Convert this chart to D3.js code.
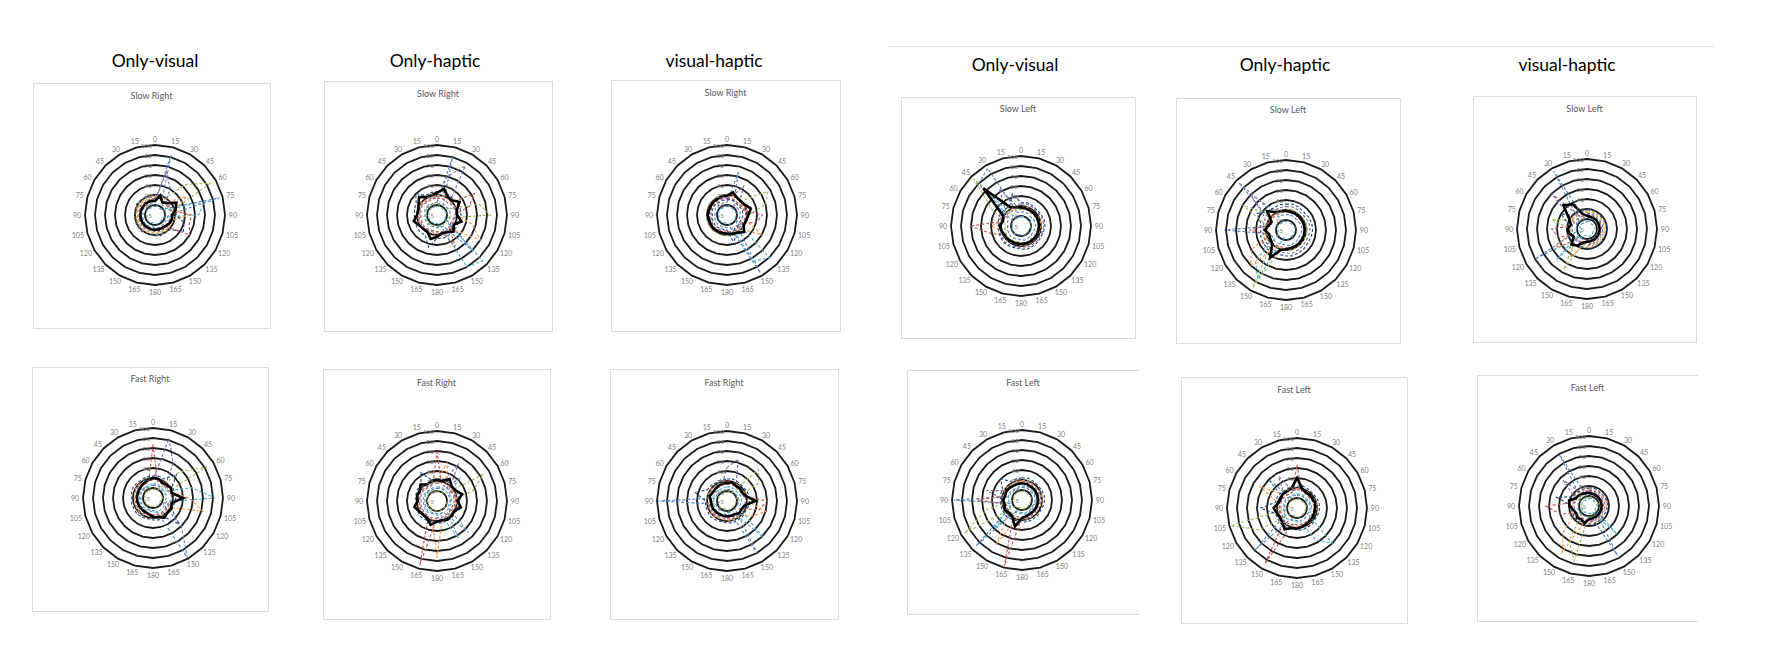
<!DOCTYPE html>
<html><head><meta charset="utf-8">
<script src="https://cdn.jsdelivr.net/npm/d3@7"></script>
<style>html,body{margin:0;padding:0;background:#fff;}svg{display:block;}</style>
</head><body>
<svg id="chart" width="1765" height="658"></svg>
<script>
// ---------- data ----------
const categories = ["0","15","30","45","60","75","90","105","120","135","150","165","180","165","150","135","120","105","90","75","60","45","30","15"];
const radialTicks = [-5,10,25,40,55,70,85,100];
const groupTitles = ["Only-visual","Only-haptic","visual-haptic"];
const panelTitles = ["Slow Right","Slow Right","Slow Right","Slow Left","Slow Left","Slow Left",
                     "Fast Right","Fast Right","Fast Right","Fast Left","Fast Left","Fast Left"];
const seriesColors = ["#4F81BD","#C0504D","#9BBB59","#8064A2","#4BACC6","#F79646","#1F497D"];

const p1Mean = [16,25,17,20,32,27,21,21,20,18,17,17,17,17,17,17,17,17,17,17,17,17,17,17];
const p1Runs = [
 [14,88,14,13,14,95,15,14,13,14,14,15,14,13,14,15,14,14,13,14,15,14,13,14],
 [20,21,20,19,20,21,50,48,55,20,20,21,20,19,20,21,20,20,19,20,21,20,19,20],
 [22,23,22,60,90,23,23,22,21,22,22,23,22,21,22,23,22,22,21,22,23,22,21,22],
 [18,62,40,17,18,19,19,18,17,18,18,19,18,17,18,19,18,18,17,18,19,18,17,18],
 [8,9,8,7,8,72,60,8,7,8,8,9,8,7,8,9,8,8,7,8,9,8,7,8],
 [24,25,24,23,50,25,45,24,23,24,24,25,24,23,24,25,24,24,23,24,25,24,23,24],
 [26,27,26,25,26,27,27,40,44,26,26,27,26,25,26,27,26,26,25,26,27,26,25,26]];

const p2Mean = [28,36,27,26,34,26,25,33,24,30,25,23,28,32,24,24,26,31,25,24,27,33,26,26];
const p2Runs = [
 [14,85,14,13,14,15,15,14,13,72,14,15,14,13,14,15,14,14,13,14,15,14,13,14],
 [20,21,20,19,60,45,21,20,19,20,50,21,20,19,20,21,20,20,19,20,21,20,19,20],
 [12,13,12,11,12,60,75,12,11,12,12,13,12,11,12,13,12,12,11,12,13,12,11,12],
 [22,55,80,21,22,23,23,22,21,22,22,23,22,21,22,23,22,22,21,22,23,22,21,22],
 [8,9,8,7,8,9,9,8,7,92,85,9,8,7,8,9,8,8,7,8,9,8,7,8],
 [24,25,24,23,24,25,25,50,70,24,24,25,24,23,24,25,24,24,23,24,25,24,23,24],
 [30,31,30,29,30,31,31,30,29,30,30,31,30,45,30,31,30,30,29,30,31,40,29,30]];

const p3Mean = [24,30,25,24,26,32,27,25,24,31,26,24,23,23,23,24,23,23,24,23,23,23,23,24];
const p3Runs = [
 [14,62,14,13,14,15,15,14,13,14,95,15,14,13,14,15,14,14,13,14,15,14,13,14],
 [20,21,20,19,20,21,48,40,19,20,20,21,20,19,20,21,20,20,19,20,21,20,19,20],
 [26,27,26,25,66,55,27,26,25,26,26,27,26,25,26,27,26,26,25,26,27,26,25,26],
 [22,23,45,21,22,23,23,22,21,22,22,23,22,21,22,23,22,22,21,22,23,22,21,22],
 [8,9,8,7,8,9,9,8,7,85,75,9,8,7,8,9,8,8,7,8,9,8,7,8],
 [24,25,24,23,24,25,25,24,55,24,24,25,24,23,24,25,24,24,23,24,25,24,23,24],
 [18,19,18,17,18,19,19,18,17,18,18,40,18,17,18,19,18,18,17,18,19,18,17,18]];

const p4Mean = [23,22,22,22,22,22,22,22,22,22,22,22,22,22,22,23,23,25,27,23,26,75,28,24];
const p4Runs = [
 [16,17,16,15,16,17,17,16,15,16,16,17,16,15,16,17,16,16,15,16,17,85,95,16],
 [22,23,22,21,22,23,23,22,21,22,22,23,22,21,22,23,22,40,72,22,23,22,21,22],
 [20,21,20,19,20,21,21,20,19,20,20,21,20,19,20,21,20,20,19,20,45,95,19,20],
 [28,29,28,27,28,29,29,28,27,28,28,29,28,27,28,29,28,28,27,28,29,28,60,28],
 [9,10,9,8,9,10,10,9,8,9,9,10,9,8,9,10,9,9,8,9,10,62,8,9],
 [24,25,24,23,24,25,25,24,23,24,24,25,24,23,24,25,24,24,40,24,25,24,23,24],
 [30,31,30,29,30,31,31,30,29,30,30,31,30,29,30,31,30,30,29,30,31,30,29,45]];

const p5Mean = [24,23,23,23,23,23,23,23,23,23,23,23,24,26,43,24,22,21,27,22,20,35,26,24];
const p5Runs = [
 [18,19,18,17,18,19,19,18,17,18,18,19,18,17,18,19,18,18,88,18,19,95,17,18],
 [22,23,22,21,22,23,23,22,21,22,22,23,22,21,22,23,35,22,50,22,23,22,21,22],
 [26,27,26,25,26,27,27,26,25,26,26,27,26,25,95,27,26,26,25,26,70,26,25,26],
 [30,31,30,29,30,31,31,30,29,30,30,31,30,29,30,31,30,30,29,30,31,70,29,30],
 [8,9,8,7,8,9,9,8,7,8,8,9,8,7,80,60,8,8,7,8,9,8,7,8],
 [24,25,24,23,24,25,25,24,23,24,24,25,24,23,24,70,55,24,23,24,25,24,23,24],
 [34,35,34,33,34,35,35,34,33,34,34,35,34,33,34,35,34,34,33,34,45,34,33,34]];

const p6Mean = [15,14,14,14,14,14,14,14,14,14,14,14,14,16,24,28,18,22,24,20,26,45,38,18];
const p6Runs = [
 [12,13,12,11,12,13,13,12,11,12,12,13,12,11,12,13,85,12,11,12,13,12,95,12],
 [16,17,16,15,16,17,17,16,15,16,16,17,16,15,16,17,16,40,48,16,17,16,15,16],
 [20,21,20,19,20,21,21,20,19,20,20,21,20,19,65,21,20,20,19,50,21,20,19,20],
 [18,19,18,17,18,19,19,18,17,18,18,19,18,17,18,19,18,18,17,18,19,70,17,18],
 [6,7,6,5,6,7,7,6,5,6,6,7,6,5,6,60,6,6,5,6,7,6,5,6],
 [22,23,22,21,22,23,23,22,21,22,22,23,22,21,45,23,50,22,21,22,23,22,21,22],
 [24,25,24,23,24,25,25,24,23,24,24,25,24,23,24,25,24,24,23,24,40,24,23,24]];

const p7Mean = [25,25,22,23,26,24,40,24,27,26,29,25,23,20,19,19,19,19,19,19,19,20,21,23];
const p7Runs = [
 [14,15,14,13,14,15,15,14,13,55,98,15,14,13,14,15,14,14,13,14,15,14,13,14],
 [75,21,20,19,20,21,45,20,19,20,20,21,20,19,20,21,20,20,19,20,21,20,19,20],
 [8,9,8,50,88,9,9,8,7,8,8,9,8,7,8,9,8,8,7,8,9,8,7,8],
 [22,88,55,21,22,23,23,22,21,22,22,23,22,21,22,23,22,22,21,22,23,22,21,22],
 [16,17,16,15,16,55,88,16,15,16,16,17,16,15,16,17,16,16,15,16,17,16,15,16],
 [24,25,24,23,24,25,50,72,23,24,24,25,24,23,24,25,24,24,23,24,25,24,23,24],
 [28,29,28,45,28,29,29,28,27,50,28,29,28,27,28,29,28,28,27,28,29,28,27,28]];

const p8Mean = [27,26,33,26,27,34,26,32,25,26,27,25,26,32,25,24,26,30,24,26,25,30,24,26];
const p8Runs = [
 [14,15,14,45,14,15,15,14,13,62,14,15,14,13,14,15,14,14,13,14,15,14,13,14],
 [70,21,20,19,20,21,21,20,19,20,20,21,20,95,20,21,20,20,19,20,21,20,19,20],
 [10,11,10,9,75,50,11,10,9,10,10,11,10,9,10,11,10,10,9,10,11,10,9,10],
 [22,23,60,21,22,23,23,22,21,22,22,23,22,21,22,23,22,22,21,22,23,22,21,22],
 [16,17,16,15,16,17,17,16,15,16,60,17,16,15,16,17,16,16,15,16,17,16,15,16],
 [24,55,24,23,24,25,25,24,23,24,24,25,80,23,24,25,24,24,23,24,25,24,23,24],
 [28,29,28,27,28,29,29,28,27,28,28,29,28,27,28,29,28,28,27,28,29,28,45,28]];

const p9Mean = [22,24,21,22,21,24,38,22,20,21,18,18,18,18,18,18,19,19,19,22,20,20,21,22];
const p9Runs = [
 [12,13,12,11,12,13,13,12,11,12,85,13,12,11,12,13,12,12,98,12,13,12,11,12],
 [20,21,20,19,20,21,55,45,19,20,20,21,20,19,20,21,20,20,19,20,21,20,19,20],
 [8,9,8,62,50,9,9,8,7,8,8,9,8,7,8,9,8,8,7,8,9,8,7,8],
 [45,60,22,21,22,23,23,22,21,22,22,23,22,21,22,23,22,22,21,22,23,22,21,22],
 [16,17,16,15,16,17,17,16,15,72,16,17,16,15,16,17,16,16,15,16,17,16,15,16],
 [24,25,24,23,24,25,25,55,40,24,24,25,24,23,24,25,24,24,23,24,25,24,23,24],
 [28,29,28,27,28,29,29,28,27,28,28,29,28,27,28,29,28,28,27,45,29,28,27,28]];

const p10Mean = [20,20,19,19,19,19,19,19,19,19,19,20,22,36,24,22,25,22,23,21,22,21,20,20];
const p10Runs = [
 [14,15,14,13,14,15,15,14,13,14,14,15,14,13,14,92,14,14,98,14,15,14,13,14],
 [20,21,20,19,20,21,21,20,19,20,20,21,20,98,20,21,20,20,62,20,21,20,19,20],
 [8,9,8,7,8,9,9,8,7,8,8,9,8,7,8,9,95,50,7,8,9,8,7,8],
 [22,23,22,21,22,23,23,22,21,22,22,23,22,21,22,23,22,22,21,50,23,22,21,22],
 [16,17,16,15,16,17,17,16,15,16,16,17,16,15,16,55,16,16,15,16,17,16,15,16],
 [24,25,24,23,24,25,25,24,23,24,24,25,24,23,72,25,24,24,23,24,25,24,23,24],
 [28,29,28,27,28,29,29,28,27,28,28,29,28,27,28,29,28,28,27,28,29,40,27,28]];

const p11Mean = [40,25,22,22,22,23,22,22,22,22,23,24,26,26,32,26,24,26,30,24,23,25,24,26];
const p11Runs = [
 [14,15,14,13,14,15,15,14,13,14,14,15,14,13,14,85,14,14,13,14,15,55,13,14],
 [60,21,20,19,20,21,21,20,19,20,20,21,20,19,92,21,20,20,19,20,21,20,19,20],
 [8,9,8,7,8,9,9,8,7,8,8,9,8,7,8,9,60,98,7,8,9,8,7,8],
 [22,23,22,21,22,23,23,22,21,22,22,23,22,21,22,23,22,22,21,22,23,22,50,22],
 [16,17,16,15,16,17,17,16,15,70,50,17,16,15,16,17,16,16,15,16,17,16,15,16],
 [24,25,24,23,24,25,25,24,23,24,24,25,24,23,24,25,24,24,23,24,60,24,23,24],
 [28,29,28,27,28,29,29,28,27,28,28,29,28,27,28,29,28,28,50,28,29,28,27,28]];

const p12Mean = [15,14,14,14,14,14,14,14,14,14,14,14,15,22,18,20,17,19,24,26,18,17,16,15];
const p12Runs = [
 [12,13,12,11,12,13,13,12,11,12,80,13,12,11,12,13,12,12,11,12,13,12,85,12],
 [16,17,16,15,16,17,17,16,15,16,16,17,16,15,16,17,16,40,60,16,17,16,15,16],
 [8,9,8,7,8,9,9,8,7,8,8,9,8,80,55,9,8,8,7,8,9,8,7,8],
 [18,19,18,17,18,19,19,18,17,18,18,19,18,17,18,19,18,18,17,18,19,50,17,18],
 [6,7,6,5,6,7,7,6,5,55,6,7,6,5,6,7,6,6,5,6,7,6,5,6],
 [20,21,20,19,20,21,21,20,19,20,20,21,20,19,75,50,20,20,19,20,21,20,19,20],
 [22,23,22,21,22,23,23,22,21,22,22,23,22,21,22,23,22,22,21,45,23,22,21,22]];

const panelMeans = [p1Mean,p2Mean,p3Mean,p4Mean,p5Mean,p6Mean,p7Mean,p8Mean,p9Mean,p10Mean,p11Mean,p12Mean];
const panelRuns = [p1Runs,p2Runs,p3Runs,p4Runs,p5Runs,p6Runs,p7Runs,p8Runs,p9Runs,p10Runs,p11Runs,p12Runs];

// ---------- layout (positions only) ----------
const layout = [
 {x:33,y:83,w:237,h:245,cx:155,cy:215,r:70,ty:95},
 {x:324,y:81,w:228,h:250,cx:437,cy:215,r:70,ty:93},
 {x:611,y:80,w:229,h:251,cx:727,cy:215,r:70,ty:92},
 {x:901,y:97,w:234,h:241,cx:1021,cy:226,r:70,ty:108},
 {x:1176,y:98,w:224,h:245,cx:1286,cy:230,r:70,ty:109},
 {x:1473,y:96,w:223,h:246,cx:1587,cy:229,r:70,ty:108},
 {x:32,y:367,w:236,h:244,cx:153,cy:498,r:70,ty:378},
 {x:323,y:369,w:227,h:250,cx:437,cy:501,r:70,ty:382},
 {x:610,y:369,w:228,h:250,cx:727,cy:501,r:70,ty:382},
 {x:907,y:370,w:232,h:244,cx:1022,cy:500,r:70,ty:382,open:true},
 {x:1181,y:377,w:226,h:246,cx:1297,cy:508,r:70,ty:389},
 {x:1477,y:375,w:221,h:246,cx:1589,cy:506,r:70,ty:387,open:true}
];
const groupLayout = [{x:155,y:60},{x:435,y:60},{x:714,y:60},{x:1015,y:64},{x:1285,y:64},{x:1567,y:64}];

const svg = d3.select("#chart");
const FONT = "Lato, 'Open Sans', sans-serif";

// separator line over right group
svg.append("line").attr("x1",888).attr("x2",1714).attr("y1",46.5).attr("y2",46.5)
  .attr("stroke","#e6e6e6").attr("stroke-width",1);

groupLayout.forEach((g,i)=>{
  svg.append("text").attr("x",g.x).attr("y",g.y).attr("text-anchor","middle")
    .attr("dominant-baseline","central").attr("font-family",FONT).attr("font-size",17.5)
    .attr("fill","#000").text(groupTitles[i%3]);
});

const angle = d3.scalePoint().domain(d3.range(categories.length)).range([0, 2*Math.PI*(categories.length-1)/categories.length]);

layout.forEach((L,pi)=>{
  const g = svg.append("g");
  // box
  if (L.open) {
    g.append("path").attr("d",`M${L.x+L.w},${L.y+0.5}H${L.x+0.5}V${L.y+L.h+0.5}H${L.x+L.w}`)
      .attr("fill","#fff").attr("stroke","#dcdcdc").attr("stroke-width",1);
  } else {
    g.append("rect").attr("x",L.x+0.5).attr("y",L.y+0.5).attr("width",L.w).attr("height",L.h)
      .attr("fill","#fff").attr("stroke","#dcdcdc").attr("stroke-width",1);
  }
  g.append("text").attr("x",L.x+L.w/2).attr("y",L.ty).attr("text-anchor","middle")
    .attr("dominant-baseline","central").attr("font-family",FONT).attr("font-size",9)
    .attr("fill","#595959").text(panelTitles[pi]);

  const rScale = d3.scaleLinear().domain([radialTicks[0], radialTicks[radialTicks.length-1]]).range([0, L.r]);
  const c = g.append("g").attr("transform",`translate(${L.cx},${L.cy})`);
  const radial = d3.lineRadial().angle((d,i)=>angle(i)).radius(d=>rScale(d)).curve(d3.curveLinearClosed);

  // gridline rings
  radialTicks.slice(1).forEach(t=>{
    c.append("path").attr("d", radial(categories.map(()=>t)))
      .attr("fill","none").attr("stroke","#1a1a1a").attr("stroke-width",1.8);
  });
  // category labels
  categories.forEach((lab,i)=>{
    const a = angle(i), s = Math.sin(a), co = Math.cos(a);
    const w = lab.length*3.9;
    const rr = L.r + 3;
    c.append("text").attr("x", rr*s + s*w/2 + s*1).attr("y", -rr*co - co*3.5)
      .attr("text-anchor","middle").attr("dominant-baseline","central")
      .attr("font-family",FONT).attr("font-size",7).attr("fill","#7f7f7f").text(lab);
  });
  // dashed runs
  panelRuns[pi].forEach((run,si)=>{
    c.append("path").attr("d", radial(run)).attr("fill","none")
      .attr("stroke", seriesColors[si]).attr("stroke-width",1.1).attr("stroke-dasharray","3,2");
  });
  // mean
  c.append("path").attr("d", radial(panelMeans[pi])).attr("fill","none")
    .attr("stroke","#000").attr("stroke-width",2.6).attr("stroke-linejoin","miter");
  // radial tick labels
  radialTicks.forEach(t=>{
    c.append("text").attr("x",-3).attr("y",-rScale(t)).attr("text-anchor","end")
      .attr("dominant-baseline","central").attr("font-family",FONT).attr("font-size",6.5)
      .attr("fill","#7f7f7f").text(t);
  });
});
</script>
</body></html>
